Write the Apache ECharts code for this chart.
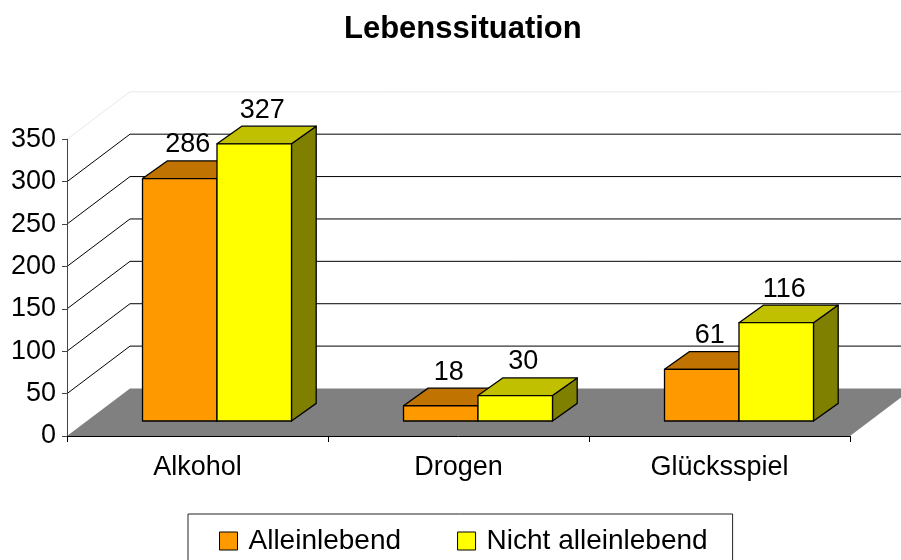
<!DOCTYPE html>
<html>
<head>
<meta charset="utf-8">
<script src="https://cdn.jsdelivr.net/npm/echarts@6/dist/echarts.min.js"></script>
<style>
  html, body { margin: 0; padding: 0; background: #fff; }
  #chart { width: 901px; height: 560px; }
</style>
</head>
<body>
<div id="chart"></div>
<script>
var categories = ['Alkohol', 'Drogen', 'Glücksspiel'];
var alleinlebend = [286, 18, 61];
var nichtAlleinlebend = [327, 30, 116];
var yTicks = [0, 50, 100, 150, 200, 250, 300, 350];

var FONT = '"Liberation Sans", Arial, sans-serif';
var WALL_DEPTH = [63, -47.5];   // offset from front axis to back wall
var BAR_SHIFT = [19.5, -15];    // bars stand a bit behind the front axis
var BAR_DEPTH = [24.7, -17.6];
var BAR_RATIO = 0.2854;

var chart = echarts.init(document.getElementById('chart'));

// floor, side wall and back wall gridlines
function renderScaffold(params, api) {
    var cs = params.coordSys;
    var x0 = cs.x, x1 = cs.x + cs.width;
    var yb = api.coord([0, 0])[1];
    var dx = WALL_DEPTH[0], dy = WALL_DEPTH[1];
    var children = [{
        type: 'polygon',
        shape: { points: [[x0, yb], [x1, yb], [x1 + dx, yb + dy], [x0 + dx, yb + dy]] },
        style: { fill: '#808080' }
    }];
    yTicks.forEach(function (v) {
        if (v === 0) return;
        var y = api.coord([0, v])[1];
        var stroke = v === yTicks[yTicks.length - 1] ? '#e8e8e8' : '#000';
        children.push({ type: 'line', shape: { x1: x0, y1: y, x2: x0 + dx, y2: y + dy }, style: { stroke: stroke, lineWidth: 1 } });
        children.push({ type: 'line', shape: { x1: x0 + dx, y1: y + dy, x2: x1 + dx, y2: y + dy }, style: { stroke: stroke, lineWidth: 1 } });
    });
    return { type: 'group', children: children };
}

function makeBarRenderer(side, frontColor, topColor, sideColor) {
    return function (params, api) {
        var cat = api.value(0), val = api.value(1);
        var pTop = api.coord([cat, val]);
        var pBase = api.coord([cat, 0]);
        var bw = api.size([1, 0])[0] * BAR_RATIO;
        var L = pTop[0] + BAR_SHIFT[0] + (side < 0 ? -bw : 0);
        var R = L + bw;
        var T = pTop[1] + BAR_SHIFT[1];
        var B = pBase[1] + BAR_SHIFT[1];
        var dx = BAR_DEPTH[0], dy = BAR_DEPTH[1];
        var edge = { stroke: '#000', lineWidth: 1.3, lineJoin: 'round' };
        return {
            type: 'group',
            children: [
                { type: 'polygon', shape: { points: [[R, T], [R + dx, T + dy], [R + dx, B + dy], [R, B]] }, style: Object.assign({ fill: sideColor }, edge) },
                { type: 'polygon', shape: { points: [[L, T], [R, T], [R + dx, T + dy], [L + dx, T + dy]] }, style: Object.assign({ fill: topColor }, edge) },
                { type: 'rect', shape: { x: L, y: T, width: bw, height: B - T }, style: Object.assign({ fill: frontColor }, edge) },
                {
                    type: 'text', x: (L + R) / 2 + 8, y: T + dy - 16,
                    style: { text: String(val), fontSize: 27, fontFamily: FONT, fill: '#000', align: 'center', verticalAlign: 'middle' }
                }
            ]
        };
    };
}

function toPoints(values) {
    return values.map(function (v, i) { return [i, v]; });
}

chart.setOption({
    animation: false,
    backgroundColor: '#fff',
    title: {
        text: 'Lebenssituation',
        left: 339,
        top: 9,
        textStyle: { fontSize: 31, fontWeight: 'bold', fontFamily: FONT, color: '#000' }
    },
    legend: {
        data: [
            { name: 'Alleinlebend', itemStyle: { color: '#FF9900' } },
            { name: 'Nicht alleinlebend', itemStyle: { color: '#FFFF00' } }
        ],
        left: 188,
        top: 514,
        icon: 'rect',
        itemWidth: 18,
        itemHeight: 18,
        itemGap: 56,
        padding: [13, 25, 16, 31],
        borderColor: '#222',
        borderWidth: 1,
        itemStyle: { borderColor: '#000', borderWidth: 1 },
        textStyle: { fontSize: 28, fontFamily: FONT, color: '#000', padding: [0, 0, 0, 6] },
        selectedMode: false
    },
    grid: {
        left: 67,
        right: 51,
        top: 139.3,
        bottom: 124,
        containLabel: false,
        outerBoundsMode: 'none'
    },
    xAxis: {
        type: 'category',
        data: categories,
        z: 3,
        axisLine: { lineStyle: { color: '#000', width: 1 } },
        axisTick: { show: true, length: 6, lineStyle: { color: '#000' } },
        axisLabel: { fontSize: 27, fontFamily: FONT, color: '#000', margin: 18 },
        splitLine: { show: false }
    },
    yAxis: {
        type: 'value',
        min: 0,
        max: 350,
        interval: 50,
        z: 3,
        axisLine: { show: true, lineStyle: { color: '#444' } },
        axisTick: { show: true, length: 5, lineStyle: { color: '#444' } },
        axisLabel: { fontSize: 27, fontFamily: FONT, color: '#000', margin: 11 },
        splitLine: { show: false }
    },
    series: [
        {
            name: 'scaffold',
            type: 'custom',
            silent: true,
            z: 1,
            data: [[0, 0]],
            renderItem: renderScaffold
        },
        {
            name: 'Alleinlebend',
            type: 'custom',
            z: 2,
            itemStyle: { color: '#FF9900' },
            data: toPoints(alleinlebend),
            encode: { x: 0, y: 1 },
            renderItem: makeBarRenderer(-1, '#FF9900', '#C07300', '#805000')
        },
        {
            name: 'Nicht alleinlebend',
            type: 'custom',
            z: 2,
            itemStyle: { color: '#FFFF00' },
            data: toPoints(nichtAlleinlebend),
            encode: { x: 0, y: 1 },
            renderItem: makeBarRenderer(1, '#FFFF00', '#C0C000', '#808000')
        }
    ]
});
</script>
</body>
</html>
